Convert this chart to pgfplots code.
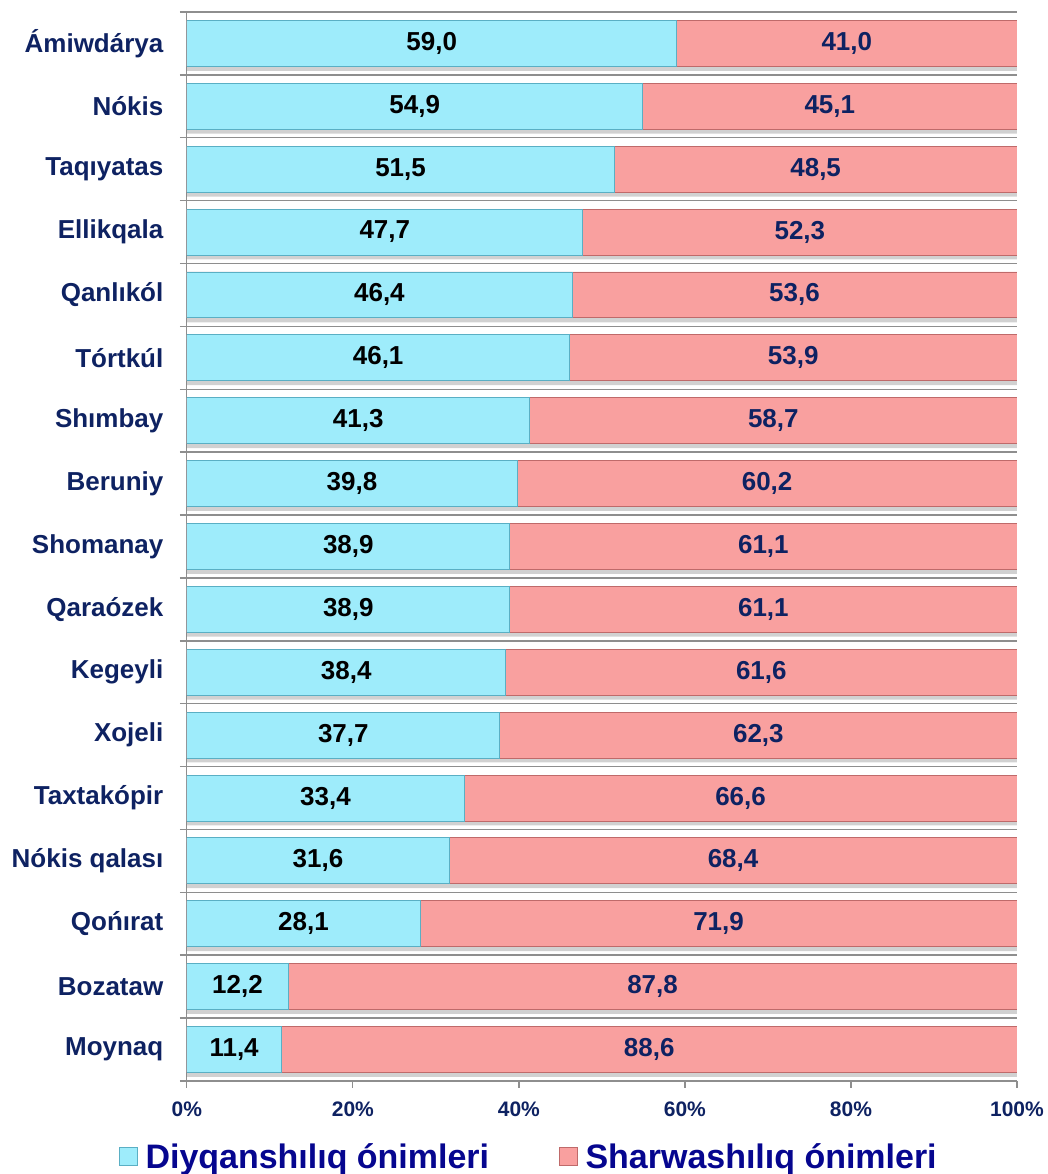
\documentclass[border=0pt]{standalone}
\usepackage{fontspec}
\setmainfont{Liberation Sans}
\usepackage{pgfplots}
\usepackage{pgfplotstable}
\pgfplotsset{compat=1.18}
\definecolor{bluefill}{HTML}{9EECFB}
\definecolor{blueedge}{HTML}{5AAFC4}
\definecolor{pinkfill}{HTML}{F9A09F}
\definecolor{pinkedge}{HTML}{BF6A6A}
\definecolor{navy}{HTML}{0E2262}
\definecolor{legnavy}{HTML}{06068F}
\definecolor{gridgray}{HTML}{8E8E8E}
\pgfplotstableread{
idx a b
0 59.0 41.0
1 54.9 45.1
2 51.5 48.5
3 47.7 52.3
4 46.4 53.6
5 46.1 53.9
6 41.3 58.7
7 39.8 60.2
8 38.9 61.1
9 38.9 61.1
10 38.4 61.6
11 37.7 62.3
12 33.4 66.6
13 31.6 68.4
14 28.1 71.9
15 12.2 87.8
16 11.4 88.6
}\datatable
\begin{document}
\begin{tikzpicture}
\begin{axis}[
  scale only axis,
  width=831pt, height=1070pt,
  xmin=0, xmax=100,
  ymin=-0.5, ymax=16.5,
  y dir=reverse,
  axis x line*=bottom,
  axis y line*=left,
  axis line style={gridgray, line width=1.3pt},
  xtick={0,20,...,100},
  xticklabel={\pgfmathprintnumber[fixed,precision=0]{\tick}\%},
  x tick label style={font=\fontsize{21}{24}\selectfont\bfseries, text=navy, yshift=-10pt},
  x tick style={gridgray, line width=1.3pt},
  tick align=outside,
  major tick length=7pt,
  minor tick length=7pt,
  xtick pos=bottom,
  ytick={0,...,16},
  yticklabels={Ámiwdárya,Nókis,Taqıyatas,Ellikqala,Qanlıkól,Tórtkúl,Shımbay,Beruniy,Shomanay,Qaraózek,Kegeyli,Xojeli,Taxtakópir,Nókis qalası,Qońırat,Bozataw,Moynaq},
  y tick label style={font=\fontsize{26}{29}\selectfont\bfseries, text=navy, xshift=-13pt},
  major y tick style={draw=none},
  minor y tick style={draw=gridgray, line width=1.5pt},
  ytick pos=left,
  minor ytick={-0.5,0.5,...,16.5},
  yminorgrids=true,
  minor grid style={gridgray, line width=1.5pt},
  /pgf/number format/assume math mode=true,
  /pgf/number format/.cd, fixed, fixed zerofill, precision=1, use comma,
  /pgfplots/.cd,
  legend style={at={(rel axis cs:0.412,-0.071)}, anchor=center, draw=none, fill=none,
    legend columns=2, font=\fontsize{34}{38}\selectfont\bfseries, text=legnavy,
    /tikz/every even column/.append style={column sep=68pt}},
  legend cell align=left,
]
% shadow
\addplot[xbar, bar width=0.73, bar shift=0.07, fill=black, fill opacity=0.18, draw=none, forget plot]
  table[x expr=\thisrow{a}+\thisrow{b}, y=idx] {\datatable};
% pink full bars underneath
\addplot[xbar, bar width=0.73, fill=pinkfill, draw=pinkedge, line width=0.8pt, forget plot]
  table[x expr=\thisrow{a}+\thisrow{b}, y=idx] {\datatable};
% blue bars on top
\addplot[xbar, bar width=0.73, fill=bluefill, draw=blueedge, line width=0.8pt, forget plot]
  table[x=a, y=idx] {\datatable};
% value labels
\addplot[draw=none, mark=none, forget plot, point meta=\thisrow{a},
  nodes near coords, nodes near coords style={anchor=center, font=\fontsize{26}{29}\selectfont\bfseries, text=black}]
  table[x expr=\thisrow{a}/2, y=idx] {\datatable};
\addplot[draw=none, mark=none, forget plot, point meta=\thisrow{b},
  nodes near coords, nodes near coords style={anchor=center, font=\fontsize{26}{29}\selectfont\bfseries, text=navy}]
  table[x expr=\thisrow{a}+\thisrow{b}/2, y=idx] {\datatable};
\addlegendimage{legend image code/.code={\draw[fill=bluefill, draw=blueedge, line width=0.8pt] (0pt,-9pt) rectangle (18pt,9pt); \path (24pt,0pt);}}
\addlegendentry{Diyqanshılıq ónimleri}
\addlegendimage{legend image code/.code={\draw[fill=pinkfill, draw=pinkedge, line width=0.8pt] (0pt,-9pt) rectangle (18pt,9pt); \path (24pt,0pt);}}
\addlegendentry{Sharwashılıq ónimleri}
\end{axis}
\path ([yshift=12pt]current axis.north);
\path ([xshift=-187pt]current axis.south west);
\end{tikzpicture}
\end{document}
